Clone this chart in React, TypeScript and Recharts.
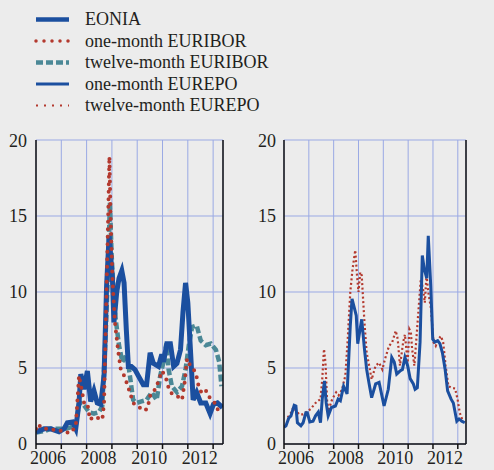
import React from "react";
import { LineChart, Line, XAxis, YAxis, CartesianGrid } from "recharts";

const FONT = "'Liberation Serif', 'DejaVu Serif', 'Times New Roman', serif";
const INK = "#231f20";
const BG = "#ececec";
const GRID = "#9aa9e4";
const BLUE = "#1b4f9f";
const RED = "#b3392e";
const TEAL = "#4b8896";

const yearTicks = [2006, 2007, 2008, 2009, 2010, 2011, 2012, 2013];
const valueTicks = [0, 5, 10, 15, 20];

// left panel
const eoniaT = [2006.0, 2006.32, 2006.58, 2006.91, 2007.11, 2007.24, 2007.44, 2007.57, 2007.7, 2007.77, 2007.9, 2008.03, 2008.16, 2008.29, 2008.42, 2008.56, 2008.69, 2008.79, 2008.89, 2009.02, 2009.08, 2009.19, 2009.28, 2009.39, 2009.48, 2009.57, 2009.65, 2009.77, 2009.91, 2010.04, 2010.24, 2010.37, 2010.51, 2010.64, 2010.84, 2010.97, 2011.04, 2011.17, 2011.31, 2011.44, 2011.57, 2011.71, 2011.81, 2011.91, 2012.0, 2012.11, 2012.21, 2012.35, 2012.51, 2012.71, 2012.88, 2013.01, 2013.17, 2013.37];
const eoniaV = [0.8, 1.0, 1.0, 0.8, 1.0, 1.4, 1.45, 1.0, 2.7, 4.6, 3.6, 4.8, 2.8, 3.5, 2.7, 2.6, 4.5, 10.4, 13.7, 10.9, 8.0, 10.0, 10.9, 11.4, 10.6, 7.5, 5.1, 5.1, 4.9, 4.5, 3.9, 3.9, 6.0, 5.3, 5.1, 5.9, 5.4, 6.6, 6.6, 5.1, 5.3, 6.2, 8.7, 10.6, 9.3, 6.0, 2.9, 3.4, 2.7, 2.7, 2.0, 2.6, 2.7, 2.4];

const euribor1T = [2006.0, 2006.08, 2006.25, 2006.58, 2006.84, 2007.11, 2007.3, 2007.57, 2007.7, 2007.77, 2007.9, 2008.03, 2008.13, 2008.29, 2008.46, 2008.62, 2008.69, 2008.79, 2008.85, 2008.9, 2008.95, 2009.02, 2009.12, 2009.24, 2009.35, 2009.48, 2009.61, 2009.71, 2009.84, 2010.04, 2010.21, 2010.4, 2010.53, 2010.71, 2010.88, 2010.97, 2011.11, 2011.24, 2011.37, 2011.55, 2011.77, 2011.87, 2011.97, 2012.11, 2012.24, 2012.35, 2012.44, 2012.57, 2012.73, 2012.91, 2013.07, 2013.17, 2013.33];
const euribor1V = [1.0, 1.3, 1.0, 1.0, 0.85, 0.9, 0.7, 1.1, 4.5, 3.9, 2.7, 2.7, 1.6, 1.8, 1.7, 1.6, 2.7, 10.4, 14.8, 18.9, 14.8, 10.9, 8.0, 6.2, 4.9, 4.5, 3.9, 3.4, 2.7, 2.5, 2.2, 2.3, 3.3, 3.6, 4.3, 4.8, 4.5, 3.7, 3.3, 3.2, 2.9, 4.0, 5.6, 5.1, 4.9, 4.4, 3.7, 3.3, 3.5, 2.9, 2.7, 2.3, 2.0];

const euribor12T = [2006.0, 2006.32, 2006.58, 2006.91, 2007.17, 2007.37, 2007.57, 2007.7, 2007.83, 2007.96, 2008.09, 2008.29, 2008.49, 2008.62, 2008.75, 2008.85, 2008.92, 2008.99, 2009.06, 2009.15, 2009.28, 2009.41, 2009.59, 2009.71, 2009.84, 2009.97, 2010.17, 2010.37, 2010.57, 2010.77, 2010.91, 2011.04, 2011.15, 2011.24, 2011.37, 2011.57, 2011.77, 2011.91, 2012.04, 2012.17, 2012.35, 2012.51, 2012.71, 2012.91, 2013.11, 2013.24, 2013.33];
const euribor12V = [0.75, 0.85, 1.0, 1.0, 1.0, 1.1, 1.2, 2.7, 2.7, 2.4, 2.1, 2.0, 2.1, 2.5, 7.1, 11.5, 15.9, 12.4, 10.2, 8.2, 6.5, 5.4, 5.9, 4.5, 2.9, 2.7, 2.8, 2.9, 3.4, 2.9, 4.5, 5.4, 6.6, 4.9, 3.8, 3.4, 3.8, 4.9, 6.5, 7.7, 7.8, 6.8, 6.5, 6.6, 6.2, 5.4, 3.8];

// right panel
const eurepo1T = [2006.0, 2006.08, 2006.19, 2006.28, 2006.41, 2006.48, 2006.54, 2006.68, 2006.77, 2006.88, 2006.94, 2007.04, 2007.17, 2007.27, 2007.38, 2007.47, 2007.54, 2007.63, 2007.7, 2007.78, 2007.91, 2008.07, 2008.18, 2008.27, 2008.4, 2008.54, 2008.67, 2008.74, 2008.84, 2008.91, 2008.97, 2009.13, 2009.24, 2009.33, 2009.43, 2009.53, 2009.69, 2009.83, 2010.03, 2010.2, 2010.34, 2010.44, 2010.54, 2010.67, 2010.77, 2010.87, 2010.98, 2011.08, 2011.21, 2011.28, 2011.37, 2011.48, 2011.57, 2011.65, 2011.75, 2011.81, 2011.91, 2011.99, 2012.08, 2012.19, 2012.28, 2012.38, 2012.49, 2012.59, 2012.73, 2012.82, 2012.96, 2013.05, 2013.16, 2013.28];
const eurepo1V = [1.1, 1.2, 1.7, 1.85, 2.55, 2.5, 1.4, 1.2, 1.4, 2.05, 2.05, 1.45, 1.5, 1.85, 2.1, 1.4, 2.95, 4.15, 2.7, 1.85, 2.4, 2.5, 2.95, 2.85, 3.8, 3.3, 7.8, 9.55, 8.9, 8.45, 6.6, 8.2, 6.25, 4.9, 3.95, 3.05, 3.95, 4.05, 2.5, 3.6, 5.7, 5.4, 4.6, 4.8, 4.9, 5.7, 5.15, 4.3, 3.95, 3.6, 3.7, 6.7, 12.4, 11.5, 10.9, 13.7, 10.4, 6.9, 6.7, 6.8, 6.6, 6.0, 4.9, 3.5, 2.95, 2.7, 1.5, 1.65, 1.5, 1.4];

const eurepo12T = [2006.15, 2006.28, 2006.37, 2006.48, 2006.61, 2006.77, 2006.9, 2007.07, 2007.27, 2007.38, 2007.47, 2007.54, 2007.61, 2007.67, 2007.74, 2007.81, 2007.94, 2008.1, 2008.2, 2008.34, 2008.47, 2008.56, 2008.67, 2008.76, 2008.87, 2008.94, 2009.0, 2009.07, 2009.13, 2009.24, 2009.33, 2009.43, 2009.53, 2009.69, 2009.83, 2009.96, 2010.07, 2010.23, 2010.36, 2010.5, 2010.58, 2010.67, 2010.8, 2010.87, 2010.98, 2011.05, 2011.11, 2011.16, 2011.25, 2011.34, 2011.43, 2011.51, 2011.6, 2011.67, 2011.74, 2011.81, 2011.92, 2012.02, 2012.11, 2012.22, 2012.32, 2012.41, 2012.51, 2012.62, 2012.75, 2012.89, 2012.99, 2013.08, 2013.18];
const eurepo12V = [1.75, 2.05, 2.4, 2.2, 1.95, 1.95, 2.1, 2.3, 2.7, 2.85, 2.95, 4.25, 6.25, 5.35, 2.7, 2.3, 2.95, 3.4, 3.2, 3.6, 4.5, 6.7, 10.0, 11.5, 12.75, 11.1, 10.0, 11.3, 11.1, 8.0, 6.0, 5.15, 4.25, 5.15, 5.35, 4.9, 5.6, 6.45, 6.7, 7.45, 6.9, 5.15, 6.7, 7.2, 5.35, 7.55, 7.35, 6.25, 5.15, 7.1, 9.1, 10.85, 10.2, 9.3, 11.1, 10.0, 8.9, 6.7, 6.45, 6.9, 7.1, 6.7, 5.15, 3.8, 3.7, 3.65, 2.95, 2.05, 1.6];

const toPoints = (t: number[], v: number[]) => t.map((x, i) => ({ t: x, v: v[i] }));

const legendItems = [
  { label: "EONIA", color: BLUE, width: 4.5, dash: undefined, cap: "butt" },
  { label: "one-month EURIBOR", color: RED, width: 3.5, dash: "0 8", cap: "round" },
  { label: "twelve-month EURIBOR", color: TEAL, width: 4.5, dash: "7 3", cap: "butt" },
  { label: "one-month EUREPO", color: BLUE, width: 3, dash: undefined, cap: "butt" },
  { label: "twelve-month EUREPO", color: RED, width: 2, dash: "2 6", cap: "butt" },
];

const axisStyle = { stroke: "#111", strokeWidth: 1.5 };
const tickText = { fontSize: 18, fill: INK, fontFamily: FONT };
const yearLabel = (v: number) => (v % 2 === 0 ? String(v) : "");

const Legend = () => (
  <svg width={300} height={120} style={{ position: "absolute", left: 0, top: 0 }}>
    {legendItems.map((item, i) => {
      const cy = 19.5 + i * 21.5;
      return (
        <g key={item.label}>
          <line
            x1={36}
            x2={69}
            y1={cy}
            y2={cy}
            stroke={item.color}
            strokeWidth={item.width}
            strokeDasharray={item.dash}
            strokeLinecap={item.cap as any}
          />
          <text x={85} y={cy} dy="0.33em" fontSize={18} fill={INK} fontFamily={FONT}>
            {item.label}
          </text>
        </g>
      );
    })}
  </svg>
);

const App = () => {
  return (
    <div style={{ position: "absolute", left: 0, top: 0, width: 494, height: 470, background: BG, overflow: "hidden", fontFamily: FONT }}>
      <Legend />
      <div style={{ position: "absolute", left: 0, top: 130 }}>
        <LineChart width={240} height={340} margin={{ top: 10, right: 16, bottom: 0, left: 0 }}>
          <CartesianGrid stroke={GRID} strokeWidth={1} />
          <XAxis
            type="number"
            dataKey="t"
            domain={[2006, 2013.39]}
            ticks={yearTicks}
            interval={0}
            allowDataOverflow
            height={26}
            axisLine={axisStyle}
            tickLine={axisStyle}
            tickSize={5}
            tickMargin={2}
            tickFormatter={yearLabel}
            tick={{ ...tickText, dx: 12 }}
          />
          <YAxis
            domain={[0, 20]}
            ticks={valueTicks}
            width={36}
            axisLine={axisStyle}
            tickLine={false}
            tickSize={0}
            tickMargin={9}
            tick={tickText}
          />
          <YAxis yAxisId="r" orientation="right" domain={[0, 20]} width={1} tick={false} tickLine={false} axisLine={axisStyle} />
          <Line data={toPoints(euribor12T, euribor12V)} dataKey="v" type="linear" stroke={TEAL} strokeWidth={4.5} strokeDasharray="7 3" dot={false} isAnimationActive={false} />
          <Line data={toPoints(eoniaT, eoniaV)} dataKey="v" type="linear" stroke={BLUE} strokeWidth={5} dot={false} isAnimationActive={false} />
          <Line data={toPoints(euribor1T, euribor1V)} dataKey="v" type="linear" stroke={RED} strokeWidth={4} strokeDasharray="0 7.5" strokeLinecap="round" dot={false} isAnimationActive={false} />
        </LineChart>
      </div>
      <div style={{ position: "absolute", left: 244, top: 130 }}>
        <LineChart width={250} height={340} margin={{ top: 10, right: 0, bottom: 0, left: 0 }}>
          <CartesianGrid stroke={GRID} strokeWidth={1} />
          <XAxis
            type="number"
            dataKey="t"
            domain={[2006, 2013.33]}
            ticks={yearTicks}
            interval={0}
            allowDataOverflow
            height={26}
            axisLine={axisStyle}
            tickLine={axisStyle}
            tickSize={5}
            tickMargin={2}
            tickFormatter={yearLabel}
            tick={{ ...tickText, dx: 12 }}
          />
          <YAxis
            domain={[0, 20]}
            ticks={valueTicks}
            width={40}
            axisLine={axisStyle}
            tickLine={false}
            tickSize={0}
            tickMargin={8}
            tick={tickText}
          />
          <YAxis
            yAxisId="r"
            orientation="right"
            domain={[0, 20]}
            ticks={valueTicks}
            width={28}
            axisLine={axisStyle}
            tickLine={false}
            tickSize={0}
            tickMargin={9}
            tick={tickText}
          />
          <Line data={toPoints(eurepo12T, eurepo12V)} dataKey="v" type="linear" stroke={RED} strokeWidth={2.2} strokeDasharray="2 2.5" dot={false} isAnimationActive={false} />
          <Line data={toPoints(eurepo1T, eurepo1V)} dataKey="v" type="linear" stroke={BLUE} strokeWidth={3} dot={false} isAnimationActive={false} />
        </LineChart>
      </div>
    </div>
  );
};

export default App;
